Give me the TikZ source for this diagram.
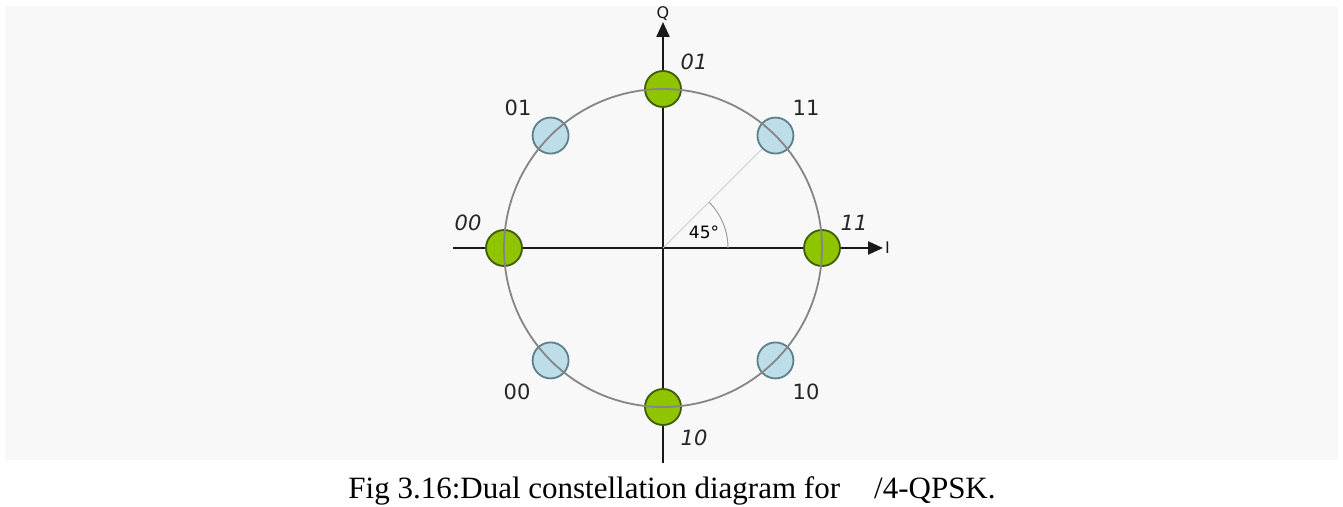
\documentclass[tikz,border=0pt]{standalone}
\usepackage{fontspec}
\setmainfont{Liberation Serif}
\newfontfamily\labfont{DejaVu Sans}
\usetikzlibrary{arrows.meta,calc}
\definecolor{bggray}{HTML}{F8F8F8}
\definecolor{ptgreen}{HTML}{8FC400}
\definecolor{ptgreenedge}{HTML}{3F5C08}
\definecolor{ptblue}{HTML}{BDDDE8}
\definecolor{ptblueedge}{HTML}{5F7F8C}
\definecolor{ringgray}{HTML}{858585}

\tikzset{
  greenpt/.style={circle, draw=ptgreenedge, fill=ptgreen, line width=1.8pt, minimum size=36pt, inner sep=0pt},
  bluept/.style={circle, draw=ptblueedge, fill=ptblue, line width=1.8pt, minimum size=36pt, inner sep=0pt},
  bitlab/.style={font=\labfont\fontsize{21}{24}\selectfont, text=black!85},
  bitlabit/.style={font=\labfont\itshape\fontsize{21}{24}\selectfont, text=black!85},
  axis/.style={line width=2.2pt, black!90, -{Triangle[length=15pt,width=13pt]}}
}

\begin{document}
\begin{tikzpicture}[x=1pt,y=1pt]
\useasboundingbox (0,0) rectangle (1343,506);
\fill[bggray] (5,46) rectangle (1338,500);

\begin{scope}[shift={(663,258)}]
\coordinate (O) at (0,0);
\coordinate (xl) at (-210,0);
\coordinate (xr) at (220,0);
\coordinate (yb) at (0,-215);
\coordinate (yt) at (0,226);

% axes
\draw[axis] (xl) -- (xr) node[right, inner sep=1pt, font=\labfont\fontsize{16}{18}\selectfont] (ilab) {I};
\draw[axis] (yb) -- (yt) node[above, inner sep=0pt, font=\labfont\fontsize{16}{18}\selectfont] (qlab) {Q};

% constellation points
\foreach \ang/\nm in {0/g0, 90/g90, 180/g180, 270/g270}
  \node[greenpt] (\nm) at (\ang:159) {};
\foreach \ang/\nm in {45/b45, 135/b135, 225/b225, 315/b315}
  \node[bluept] (\nm) at (\ang:159) {};

\draw[ringgray, line width=1.8pt] (O) circle (159);

% 45 degree marker
\draw[black!20, line width=0.8pt] (O) -- (b45);
\draw[ringgray!80, line width=1pt] (65,0) arc (0:45:65);
\node[font=\labfont\fontsize{17}{19}\selectfont] (ang) at (41,16) {45°};

% bit labels
\foreach \pos/\lab/\nm in {(31,186)/01/t1, (-195,25)/00/t2, (191,25)/11/t3, (31,-190)/10/t4}
  \node[bitlabit] (\nm) at \pos {\lab};
\foreach \pos/\lab/\nm in {(-145,140)/01/s1, (143,140)/11/s2, (-146,-144)/00/s3, (143,-144)/10/s4}
  \node[bitlab] (\nm) at \pos {\lab};
\end{scope}

\node[font=\fontsize{31}{36}\selectfont, anchor=base] (cap) at (672,8) {Fig 3.16:Dual constellation diagram for\hspace{1.1em}/4-QPSK.};
\end{tikzpicture}
\end{document}
